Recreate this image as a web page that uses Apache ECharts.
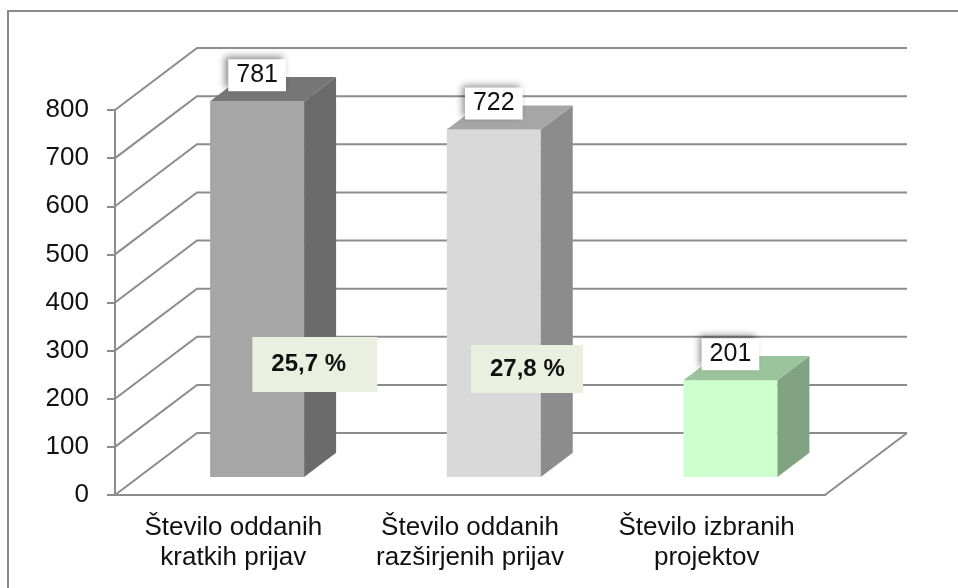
<!DOCTYPE html>
<html>
<head>
<meta charset="utf-8">
<script src="https://cdn.jsdelivr.net/npm/echarts@6/dist/echarts.min.js"></script>
<style>
  html, body { margin: 0; padding: 0; background: #fff; }
  #main { width: 958px; height: 588px; }
</style>
</head>
<body>
<div id="main"></div>
<script>
// data
var categories = ['Število oddanih\nkratkih prijav', 'Število oddanih\nrazširjenih prijav', 'Število izbranih\nprojektov'];
var values = [781, 722, 201];
var yTicks = [0, 100, 200, 300, 400, 500, 600, 700, 800];
var pctLabels = ['25,7 %', '27,8 %'];
var pctAnchor = [[0, 271], [1, 262]];   // category index, value level of the box centre

// 3d look
var DX = 82, DY = -62;          // depth of the wall / floor in px
var F0 = 0.29, F1 = 0.68;       // bar depth range as part of the wall depth
var HALF_W = 47;
var FONT = '"Liberation Sans", Arial, sans-serif';
var GRID_COLOR = '#8c8c8c';
var barColors = [
  { front: '#a6a6a6', side: '#6b6b6b', top: '#767676' },
  { front: '#d9d9d9', side: '#8c8c8c', top: '#a6a6a6' },
  { front: '#ccffcc', side: '#81a381', top: '#9cc49c' }
];
var pctBox = [{ dx: 19, w: 125, h: 55 }, { dx: 1, w: 112, h: 48 }];

var myChart = echarts.init(document.getElementById('main'), null, { renderer: 'canvas' });

function renderWall(params, api) {
  var cs = params.coordSys;
  var y = api.coord([0, api.value(1)])[1];
  var left = cs.x, right = cs.x + cs.width;
  var kids = [{
    type: 'polyline',
    shape: { points: [[left, y], [left + DX, y + DY], [right + DX, y + DY]] },
    style: { stroke: GRID_COLOR, lineWidth: 2, fill: null }
  }];
  if (params.dataIndex === 0) {
    kids.push({
      type: 'line',
      shape: { x1: right, y1: y, x2: right + DX, y2: y + DY },
      style: { stroke: GRID_COLOR, lineWidth: 2 }
    });
  }
  return { type: 'group', children: kids };
}

function renderBar(params, api) {
  var i = api.value(0), v = api.value(1);
  var base = api.coord([i, 0]);
  var top = api.coord([i, v]);
  var cx = base[0] + F0 * DX;
  var x0 = cx - HALF_W, x1 = cx + HALF_W;
  var yb = base[1] + F0 * DY, yt = top[1] + F0 * DY;
  var sx = (F1 - F0) * DX, sy = (F1 - F0) * DY;
  var c = barColors[i];
  return {
    type: 'group',
    children: [
      { type: 'polygon', shape: { points: [[x0, yb], [x1, yb], [x1, yt], [x0, yt]] }, style: { fill: c.front } },
      { type: 'polygon', shape: { points: [[x1, yb], [x1 + sx, yb + sy], [x1 + sx, yt + sy], [x1, yt]] }, style: { fill: c.side } },
      { type: 'polygon', shape: { points: [[x0, yt], [x1, yt], [x1 + sx, yt + sy], [x0 + sx, yt + sy]] }, style: { fill: c.top } },
      {
        type: 'text',
        style: {
          x: cx, y: yt - 26, text: String(v),
          align: 'center', verticalAlign: 'middle',
          font: '25px ' + FONT, fill: '#111',
          backgroundColor: '#fff', padding: [4, 8, 3, 8],
          shadowBlur: 7, shadowColor: 'rgba(0,0,0,0.45)', shadowOffsetX: -3, shadowOffsetY: -3
        }
      }
    ]
  };
}

function renderPct(params, api) {
  var i = params.dataIndex;
  var p = api.coord([api.value(0), api.value(1)]);
  var b = pctBox[i];
  var x = p[0] + b.dx, y = p[1] - b.h / 2;
  return {
    type: 'group',
    children: [
      { type: 'rect', shape: { x: x, y: y, width: b.w, height: b.h }, style: { fill: '#ebefdf' } },
      {
        type: 'text',
        style: {
          x: x + 19, y: y + b.h / 2, text: pctLabels[i],
          align: 'left', verticalAlign: 'middle',
          font: 'bold 24px ' + FONT, fill: '#111'
        }
      }
    ]
  };
}

myChart.setOption({
  backgroundColor: '#fff',
  animation: false,
  graphic: [{
    type: 'rect',
    shape: { x: 8, y: 11, width: 980, height: 600 },
    style: { fill: null, stroke: '#8a8a8a', lineWidth: 2 },
    z: 100
  }],
  grid: { left: 115, right: 133, top: 110, bottom: 93 },
  xAxis: {
    type: 'category',
    data: categories,
    axisLine: { lineStyle: { color: GRID_COLOR, width: 2 } },
    axisTick: { length: 6, lineStyle: { color: GRID_COLOR, width: 2 } },
    axisLabel: { interval: 0, margin: 18, fontSize: 26, lineHeight: 30, fontFamily: FONT, color: '#111' },
    splitLine: { show: false }
  },
  yAxis: {
    type: 'value',
    min: 0, max: 800, interval: 100,
    axisLine: { show: true, lineStyle: { color: GRID_COLOR, width: 2 } },
    axisTick: { show: true, length: 8, lineStyle: { color: GRID_COLOR, width: 2 } },
    axisLabel: { margin: 26, fontSize: 26, fontFamily: FONT, color: '#111' },
    splitLine: { show: false }
  },
  series: [
    {
      type: 'custom', name: 'walls', z: 1, silent: true,
      renderItem: renderWall,
      data: yTicks.map(function (t) { return [0, t]; }),
      encode: { x: 0, y: 1 }
    },
    {
      type: 'custom', name: 'bars', z: 5,
      renderItem: renderBar,
      data: values.map(function (v, i) { return [i, v]; }),
      encode: { x: 0, y: 1 }
    },
    {
      type: 'custom', name: 'pct', z: 10, silent: true,
      renderItem: renderPct,
      data: pctAnchor,
      encode: { x: 0, y: 1 }
    }
  ]
});
</script>
</body>
</html>
